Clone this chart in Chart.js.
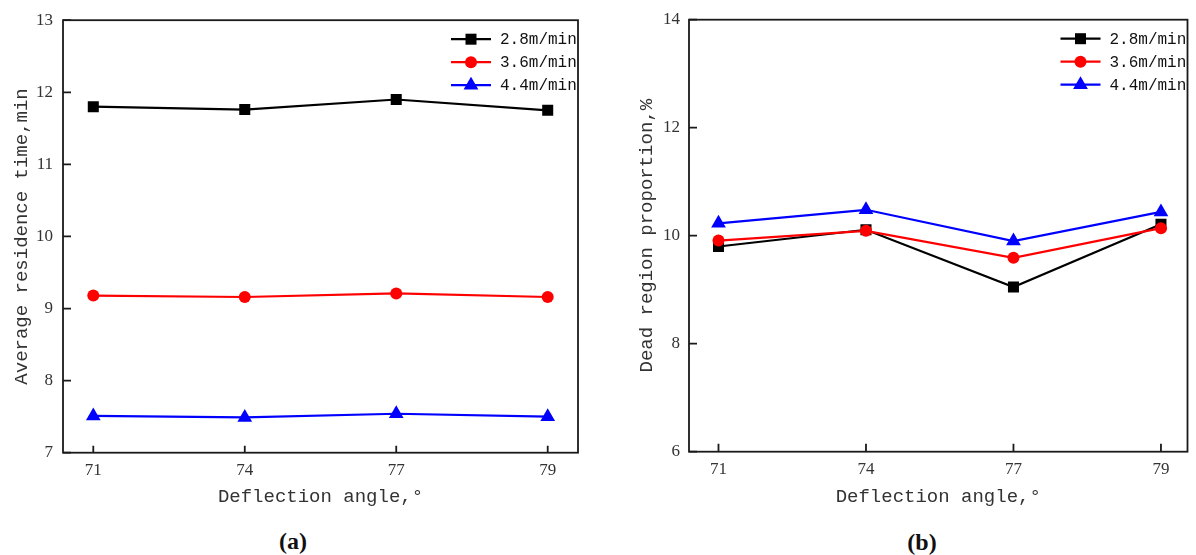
<!DOCTYPE html>
<html>
<head>
<meta charset="utf-8">
<script src="https://cdn.jsdelivr.net/npm/chart.js@4.4.1/dist/chart.umd.min.js"></script>
<style>
  body { margin: 0; background: #fff; width: 1196px; height: 555px; position: relative; overflow: hidden; }
  .panel { position: absolute; top: 0; }
  .cap { position: absolute; font: bold 24px "Liberation Serif", serif; line-height: 1; color: #111; transform: translateX(-50%); }
</style>
</head>
<body>
<div class="panel" style="left:0px"><canvas id="chartA" width="600" height="510"></canvas></div>
<div class="panel" style="left:600px"><canvas id="chartB" width="596" height="510"></canvas></div>
<div class="cap" style="left:293px; top:529px">(a)</div>
<div class="cap" style="left:922px; top:530px">(b)</div>
<script>
// Категорії (кут відхилення)
const angleLabels = ['71', '74', '77', '79'];
const seriesNames = ['2.8m/min', '3.6m/min', '4.4m/min'];
const seriesColors = ['#000000', '#ff0000', '#0000ff'];
const seriesMarkers = ['rect', 'circle', 'triangle'];

// (a) середній час перебування, хв
const residence28 = [11.80, 11.76, 11.90, 11.75];
const residence36 = [9.18, 9.16, 9.21, 9.16];
const residence44 = [7.51, 7.49, 7.54, 7.50];

// (b) частка мертвої зони, %
const dead28 = [9.80, 10.11, 9.05, 10.21];
const dead36 = [9.91, 10.09, 9.59, 10.14];
const dead44 = [10.23, 10.48, 9.90, 10.44];

const residenceTicks = [7, 8, 9, 10, 11, 12, 13];
const deadTicks = [6, 8, 10, 12, 14];

function drawMarker(ctx, style, x, y, color) {
    ctx.save();
    ctx.fillStyle = color;
    ctx.beginPath();
    if (style === 'rect') {
        ctx.rect(x - 5.5, y - 5.5, 11, 11);
    } else if (style === 'circle') {
        ctx.arc(x, y, 6, 0, Math.PI * 2);
    } else {
        ctx.moveTo(x, y - 8.5);
        ctx.lineTo(x + 7.4, y + 4.3);
        ctx.lineTo(x - 7.4, y + 4.3);
        ctx.closePath();
    }
    ctx.fill();
    ctx.restore();
}

// Рамка, внутрішні засічки та легенда
const framePlugin = {
    id: 'frame',
    afterDatasetsDraw(chart, args, opts) {
        const ctx = chart.ctx;
        const a = chart.chartArea;
        const xs = chart.scales.x, ys = chart.scales.y;
        ctx.save();
        ctx.strokeStyle = '#1a1a1a';
        ctx.lineWidth = 1.8;
        ctx.strokeRect(a.left, a.top, a.right - a.left, a.bottom - a.top);
        ctx.beginPath();
        xs.ticks.forEach(t => {
            const px = xs.getPixelForValue(t.value);
            ctx.moveTo(px, a.bottom);
            ctx.lineTo(px, a.bottom - opts.xTick);
        });
        ys.ticks.forEach(t => {
            const py = ys.getPixelForValue(t.value);
            ctx.moveTo(a.left, py);
            ctx.lineTo(a.left + opts.yTick, py);
        });
        ctx.stroke();

        // легенда
        const x0 = a.right - 127;
        chart.data.datasets.forEach((ds, i) => {
            const y = a.top + 19 + i * 23;
            ctx.strokeStyle = ds.borderColor;
            ctx.lineWidth = 2.2;
            ctx.beginPath();
            ctx.moveTo(x0, y);
            ctx.lineTo(x0 + 40, y);
            ctx.stroke();
            drawMarker(ctx, ds.pointStyle, x0 + 20, y, ds.borderColor);
            ctx.fillStyle = '#111';
            ctx.font = '16px "Liberation Mono", monospace';
            ctx.textBaseline = 'middle';
            ctx.textAlign = 'left';
            ctx.fillText(ds.label, x0 + 49, y + 1);
        });
        ctx.restore();
    }
};

function makeDatasets(lists) {
    return lists.map((vals, i) => ({
        label: seriesNames[i],
        data: vals.map((v, k) => ({ x: k, y: v })),
        borderColor: seriesColors[i],
        backgroundColor: seriesColors[i],
        pointStyle: seriesMarkers[i],
        pointRadius: seriesMarkers[i] === 'rect' ? 7.8 : (seriesMarkers[i] === 'circle' ? 6 : 8.5),
        borderWidth: 2.2,
        pointBorderWidth: 0,
        order: 3 - i
    }));
}

function makeConfig(lists, yMin, yMax, yTicks, yTitle, p) {
    return {
        type: 'line',
        data: { datasets: makeDatasets(lists) },
        options: {
            responsive: false,
            animation: false,
            layout: { padding: { left: 0, right: p.right, top: p.top, bottom: 0 } },
            plugins: {
                legend: { display: false },
                tooltip: { enabled: false },
                frame: { xTick: p.xTick, yTick: p.yTick }
            },
            scales: {
                x: {
                    type: 'linear',
                    min: -0.2,
                    max: p.xMax,
                    afterBuildTicks: s => { s.ticks = angleLabels.map((l, k) => ({ value: k })); },
                    afterFit: s => { s.height = p.xHeight; },
                    grid: { display: false, drawTicks: false },
                    border: { display: false },
                    ticks: {
                        padding: 8,
                        color: '#333',
                        font: { family: 'Liberation Serif', size: 17 },
                        callback: v => angleLabels[v]
                    },
                    title: {
                        display: true,
                        text: 'Deflection angle,°',
                        color: '#333',
                        padding: { top: 0, bottom: 1.5 },
                        font: { family: 'Liberation Mono', size: 19 }
                    }
                },
                y: {
                    min: yMin,
                    max: yMax,
                    afterBuildTicks: s => { s.ticks = yTicks.map(v => ({ value: v })); },
                    afterFit: s => { s.width = p.yWidth; },
                    grid: { display: false, drawTicks: false },
                    border: { display: false },
                    ticks: {
                        padding: p.yPad,
                        color: '#333',
                        font: { family: 'Liberation Serif', size: 17 }
                    },
                    title: {
                        display: true,
                        text: yTitle,
                        color: '#333',
                        padding: { top: p.titlePad, bottom: 0 },
                        font: { family: 'Liberation Mono', size: 19 }
                    }
                }
            }
        },
        plugins: [framePlugin]
    };
}

new Chart(document.getElementById('chartA').getContext('2d'),
    makeConfig([residence28, residence36, residence44], 7, 13, residenceTicks,
        'Average residence time,min',
        { right: 22, top: 17.5, xMax: 3.2, xHeight: 57.3, yWidth: 63, yPad: 10, yTick: 8, xTick: 7, titlePad: 10.3 }));

new Chart(document.getElementById('chartB').getContext('2d'),
    makeConfig([dead28, dead36, dead44], 6, 14, deadTicks,
        'Dead region proportion,%',
        { right: 8, top: 19.7, xMax: 3.18, xHeight: 58.3, yWidth: 89, yPad: 9, yTick: 8, xTick: 8, titlePad: 35.3 }));
</script>
</body>
</html>
